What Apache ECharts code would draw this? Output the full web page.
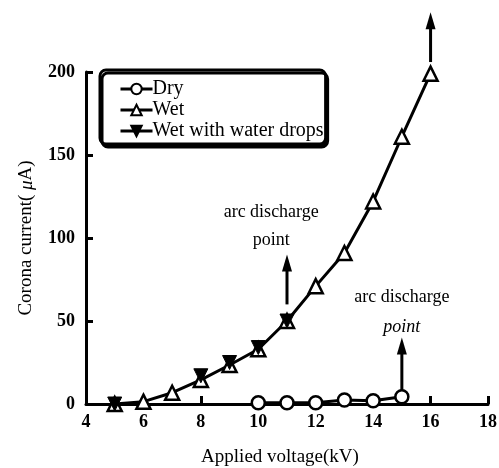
<!DOCTYPE html>
<html>
<head>
<meta charset="utf-8">
<script src="https://cdn.jsdelivr.net/npm/echarts@6/dist/echarts.min.js"></script>
<style>html,body{margin:0;padding:0;background:#fff;}#c{width:499px;height:468px;}</style>
</head>
<body>
<div id="c"></div>
<script>
const voltageDry = [10, 11, 12, 13, 14, 15];
const currentDry = [0.8, 0.8, 0.8, 2.4, 2, 4.4];
const voltageWet = [5, 6, 7, 8, 9, 10, 11, 12, 13, 14, 15, 16];
const currentWet = [0, 1.4, 6.8, 14.5, 23.5, 33, 50, 71, 91, 122, 161, 199];
const voltageDrops = [5, 8, 9, 10, 11];
const currentDrops = [0, 17, 25, 34, 50];
// arrows: [x, yStart, yEnd]
const arrows = [[11, 60, 90], [15, 8, 40], [16, 206, 236]];
// annotations: [text, x, y, italic]
const notes = [
  ['arc discharge', 10.45, 115.5, false],
  ['point', 10.45, 98.5, false],
  ['arc discharge', 15, 64, false],
  ['point', 15, 46.5, true]
];
const seriesNames = ['Dry', 'Wet', 'Wet with water drops'];

const FONT = 'Liberation Serif';
const zip = (xs, ys) => xs.map((x, i) => [x, ys[i]]);

const chart = echarts.init(document.getElementById('c'));
chart.setOption({
  animation: false,
  backgroundColor: '#fff',
  grid: { left: 86, right: 11, top: 72, bottom: 64, containLabel: false, outerBoundsMode: 'none' },
  legend: {
    orient: 'vertical',
    left: 100, top: 70,
    padding: [9, 2, 3, 19],
    itemWidth: 32, itemHeight: 13, itemGap: 1,
    borderColor: '#000', borderWidth: 3, borderRadius: 6,
    backgroundColor: '#fff',
    shadowColor: '#000', shadowBlur: 0, shadowOffsetX: 2, shadowOffsetY: 3,
    lineStyle: { width: 3, color: '#000', opacity: 1 },
    textStyle: { fontFamily: FONT, fontSize: 20, lineHeight: 17.5, color: '#000', padding: [0, 0, 0, -5] },
    data: [
      { name: seriesNames[0] },
      { name: seriesNames[1] },
      { name: seriesNames[2], lineStyle: { width: 3, color: '#000', opacity: 1 } }
    ]
  },
  xAxis: {
    type: 'value', min: 4, max: 18, interval: 2,
    name: 'Applied voltage(kV)', nameLocation: 'middle', nameGap: 44,
    nameTextStyle: { fontFamily: FONT, fontSize: 19, color: '#000', padding: [0, 14, 0, 0] },
    axisLine: { lineStyle: { color: '#000', width: 3 } },
    axisTick: { inside: true, length: 8, lineStyle: { color: '#000', width: 3 } },
    axisLabel: { fontFamily: FONT, fontSize: 18, fontWeight: 'bold', color: '#000', margin: 9 },
    splitLine: { show: false }
  },
  yAxis: {
    type: 'value', min: 0, max: 200, interval: 50,
    name: 'Corona current( {i|μ}A)', nameLocation: 'middle', nameGap: 50,
    nameTextStyle: { fontFamily: FONT, fontSize: 19, color: '#000',
      rich: { i: { fontFamily: FONT, fontSize: 19, fontStyle: 'italic', color: '#000' } } },
    axisLine: { show: true, lineStyle: { color: '#000', width: 3 } },
    axisTick: { inside: true, length: 7, lineStyle: { color: '#000', width: 3 } },
    axisLabel: { fontFamily: FONT, fontSize: 18, fontWeight: 'bold', color: '#000', margin: 11 },
    splitLine: { show: false }
  },
  series: [
    {
      name: seriesNames[0], type: 'line', data: zip(voltageDry, currentDry),
      symbol: 'circle', symbolSize: 13, showAllSymbol: true,
      lineStyle: { color: '#000', width: 3 },
      itemStyle: { color: '#fff', borderColor: '#000', borderWidth: 2.5 },
      z: 3
    },
    {
      name: seriesNames[1], type: 'line', data: zip(voltageWet, currentWet),
      symbol: 'triangle', symbolSize: 14, showAllSymbol: true, clip: false,
      lineStyle: { color: '#000', width: 3 },
      itemStyle: { color: '#fff', borderColor: '#000', borderWidth: 2.5 },
      z: 2,
      markPoint: {
        silent: true, symbol: 'circle', symbolSize: 0,
        itemStyle: { color: 'transparent' },
        data: notes.map(n => ({
          name: n[0], coord: [n[1], n[2]],
          label: { show: true, position: 'inside', formatter: '{b}',
            fontFamily: FONT, fontSize: 18, color: '#000',
            fontStyle: n[3] ? 'italic' : 'normal' }
        }))
      }
    },
    {
      name: seriesNames[2], type: 'line', data: zip(voltageDrops, currentDrops),
      symbol: 'triangle', symbolRotate: 180, symbolSize: 14, showAllSymbol: true,
      lineStyle: { width: 0, color: '#000' },
      itemStyle: { color: '#000', borderColor: '#000', borderWidth: 1 },
      z: 4
    },
    {
      name: 'arrows', type: 'custom', clip: false, silent: true, z: 5,
      data: arrows,
      renderItem: function (params, api) {
        const p1 = api.coord([api.value(0), api.value(1)]);
        const p2 = api.coord([api.value(0), api.value(2)]);
        const headLen = 17, headW = 5;
        return {
          type: 'group',
          children: [
            { type: 'line', shape: { x1: p1[0], y1: p1[1], x2: p2[0], y2: p2[1] + headLen - 2 },
              style: { stroke: '#000', lineWidth: 3 } },
            { type: 'polygon', shape: { points: [[p2[0], p2[1]], [p2[0] - headW, p2[1] + headLen], [p2[0] + headW, p2[1] + headLen]] },
              style: { fill: '#000' } }
          ]
        };
      }
    }
  ]
});
</script>
</body>
</html>
